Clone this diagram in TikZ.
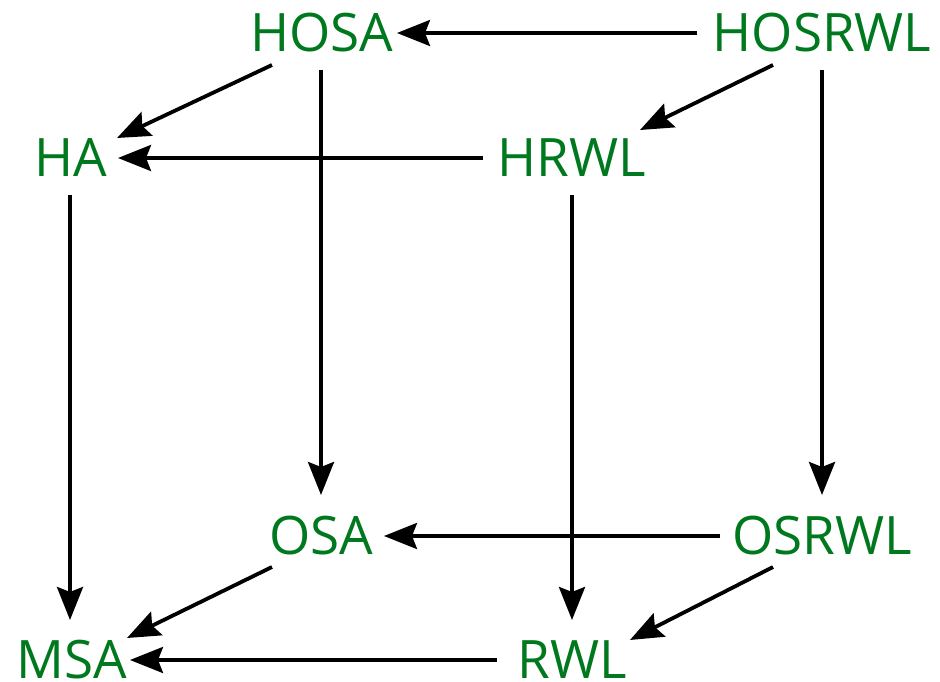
\documentclass[tikz,border=0pt]{standalone}
\usepackage{fontspec}
\setsansfont{Open Sans}
\usetikzlibrary{arrows.meta,calc}
\definecolor{lblgreen}{RGB}{0,120,30}
\begin{document}
\begin{tikzpicture}[x=1pt,y=-1pt,
  lbl/.style={inner sep=0pt,anchor=center,text=lblgreen,font=\sffamily\fontsize{53}{60}\selectfont},
  arr/.style={line width=3.8pt,-{Stealth[length=33pt,width=26pt,inset=5pt]}}]
\useasboundingbox (0,0) rectangle (940,682);
\node[lbl] (HOSA) at (322,33) {HOSA};
\node[lbl] (HOSRWL) at (822,33) {HOSRWL};
\node[lbl] (HA) at (71,158) {HA};
\node[lbl] (HRWL) at (572,158) {HRWL};
\node[lbl] (OSA) at (321,536) {OSA};
\node[lbl] (OSRWL) at (822,536) {OSRWL};
\node[lbl] (MSA) at (72,660) {MSA};
\node[lbl] (RWL) at (572,660) {RWL};
\draw[arr] ($(HOSRWL)+(-125,0)$) -- ($(HOSA)+(75,0)$);
\draw[arr] ($(HOSRWL)+(-49,32)$) -- ($(HRWL)+(68,-28)$);
\draw[arr] ($(HOSRWL)+(0,37)$) -- ($(OSRWL)+(0,-41)$);
\draw[arr] ($(HOSA)+(-50,32)$) -- ($(HA)+(46,-20)$);
\draw[arr] ($(HOSA)+(-1,37)$) -- ($(OSA)+(0,-41)$);
\draw[arr] ($(HRWL)+(-89,0)$) -- ($(HA)+(47,0)$);
\draw[arr] ($(HRWL)+(0,37)$) -- ($(RWL)+(0,-40)$);
\draw[arr] ($(HA)+(-1,37)$) -- ($(MSA)+(-2,-40)$);
\draw[arr] ($(OSRWL)+(-102,0)$) -- ($(OSA)+(63,0)$);
\draw[arr] ($(OSRWL)+(-49,31)$) -- ($(RWL)+(58,-20)$);
\draw[arr] ($(OSA)+(-49,31)$) -- ($(MSA)+(55,-22)$);
\draw[arr] ($(RWL)+(-75,0)$) -- ($(MSA)+(58,0)$);
\end{tikzpicture}
\end{document}
